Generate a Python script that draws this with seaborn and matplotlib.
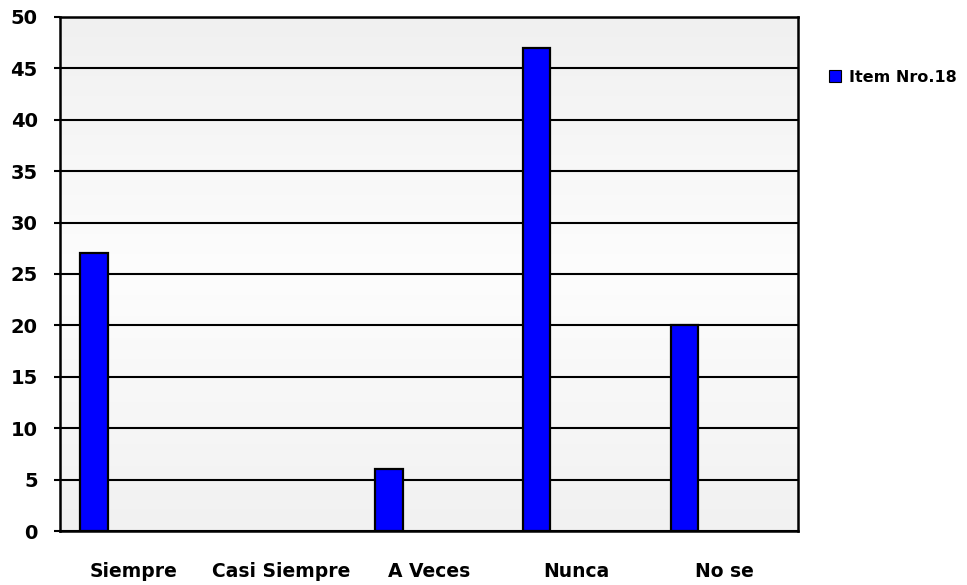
import numpy as np
import matplotlib
matplotlib.use("Agg")
import matplotlib.pyplot as plt
import seaborn as sns
from matplotlib.patches import Patch

categories = ["Siempre", "Casi Siempre", "A Veces", "Nunca", "No se"]
values = [27, 0, 6, 47, 20]
series_name = "Item Nro.18"

sns.set_style("white")
plt.rcParams['font.family'] = ['DejaVu Sans']
plt.rcParams['text.color'] = 'black'
plt.rcParams['xtick.color'] = 'black'
plt.rcParams['ytick.color'] = 'black'

fig = plt.figure(figsize=(9.67, 5.85), dpi=100)
ax = fig.add_axes([0.062, 0.0923, 0.763, 0.8787])

# light grey / white / light grey gradient behind the bars
grad = np.linspace(0, 1, 256).reshape(-1, 1)
bg = matplotlib.colors.LinearSegmentedColormap.from_list("bg", ["#f0f0f0", "#fdfdfd", "#f1f1f1"])
ax.imshow(grad, extent=[-0.5, 4.5, 0, 50], aspect="auto", origin="upper", cmap=bg, zorder=0)

sns.barplot(x=categories, y=values, color="#0000ff", width=0.185,
            edgecolor="black", linewidth=1.6, saturation=1, ax=ax, zorder=3)
# Excel-style clustered offset: the single series sits left in each slot
for p in ax.patches:
    p.set_x(p.get_x() - 0.27)
    if p.get_height() == 0:
        p.set_visible(False)

ax.set_xlim(-0.5, 4.5)
ax.set_ylim(0, 50)
ax.set_yticks(range(0, 51, 5))
ax.yaxis.grid(True, color="black", linewidth=1.5, zorder=1)
ax.set_axisbelow(True)
for s in ax.spines.values():
    s.set_color("black")
    s.set_linewidth(1.8)

ax.set_xticks(np.arange(-0.5, 4.6, 1), minor=True)
ax.tick_params(axis="x", which="minor", length=7, width=1.5, color="black", direction="out")
ax.tick_params(axis="x", which="major", length=0, pad=22, labelcolor="black")
ax.tick_params(axis="y", length=4, width=1.5, color="black", direction="out", pad=12,
               left=True, labelcolor="black")
for lbl in ax.get_xticklabels():
    lbl.set_fontweight("heavy")
    lbl.set_fontsize(13.5)
for lbl in ax.get_yticklabels():
    lbl.set_fontweight("heavy")
    lbl.set_fontsize(14)

handle = Patch(facecolor="#0000ff", edgecolor="black", linewidth=0.8)
fig.legend([handle], [series_name], loc="center left", bbox_to_anchor=(0.842, 0.868),
           frameon=False, handlelength=0.8, handleheight=0.8, handletextpad=0.5,
           prop={"weight": "heavy", "size": 11.5}, labelcolor="black")

fig.savefig("out.png", dpi=100)
